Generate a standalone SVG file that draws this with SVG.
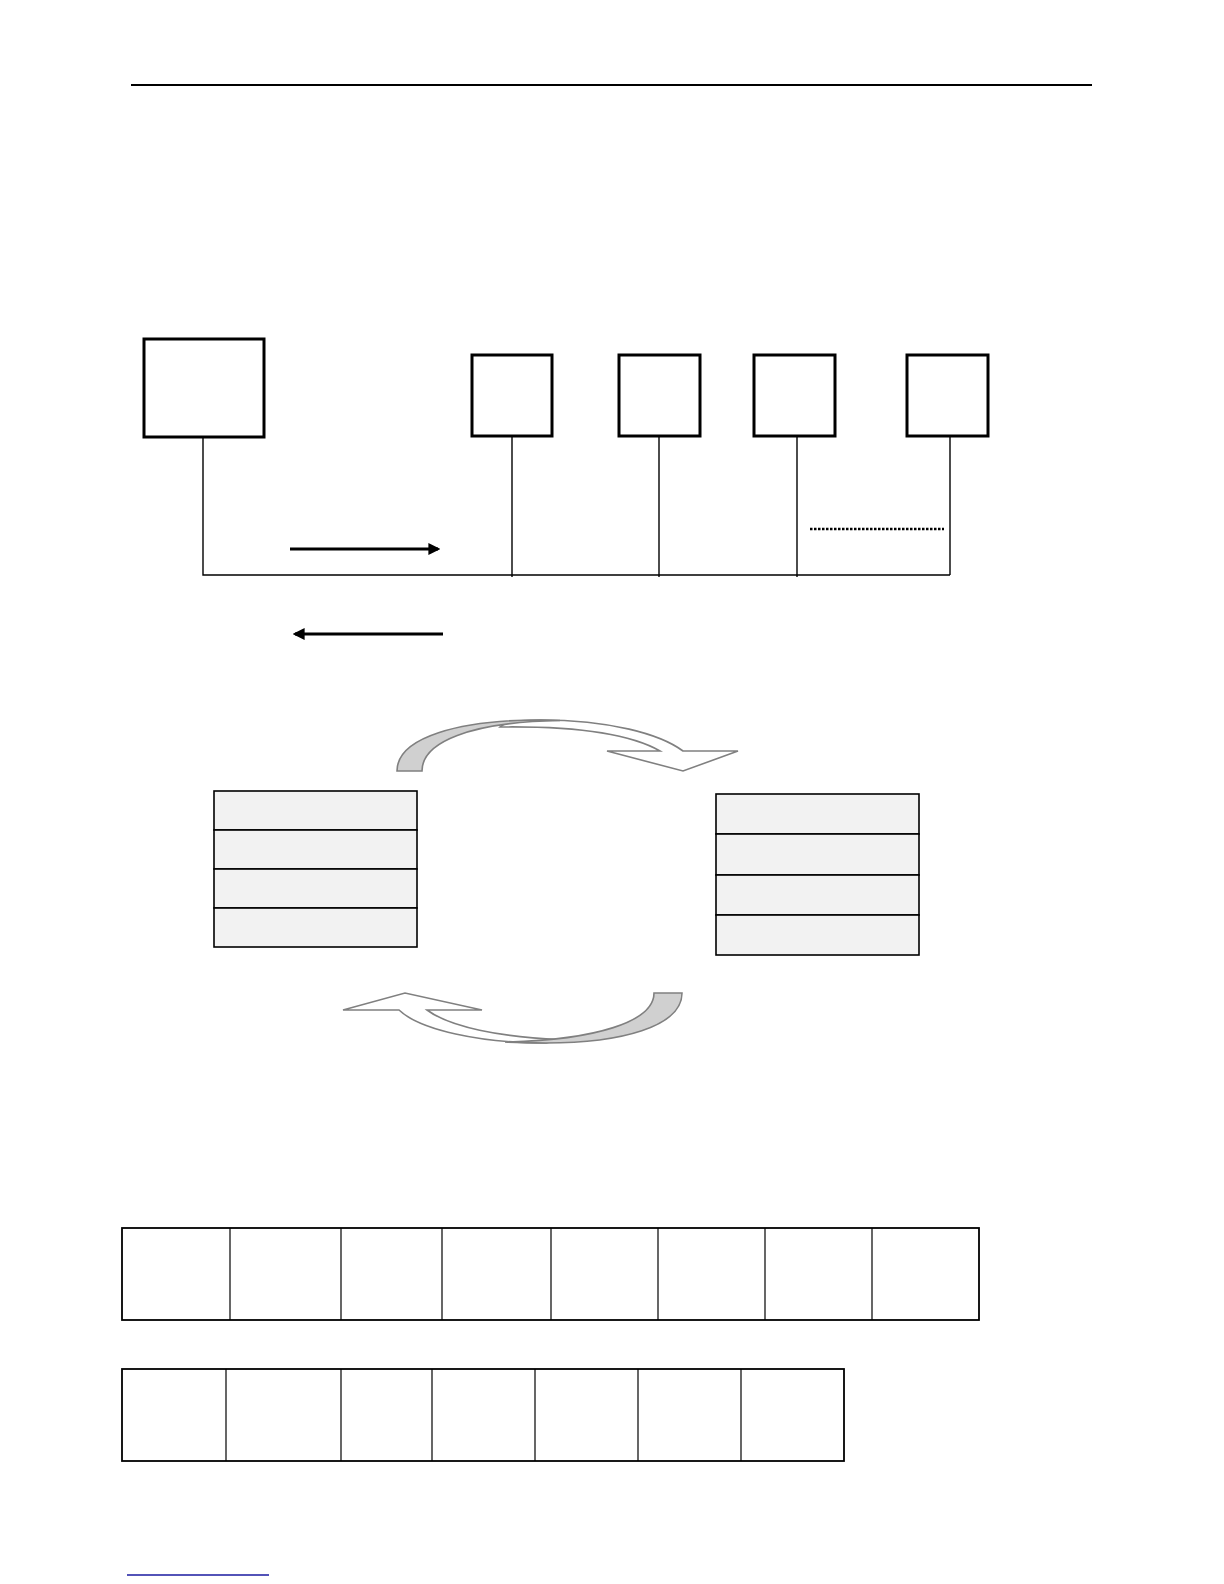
<svg xmlns="http://www.w3.org/2000/svg" width="1224" height="1584" viewBox="0 0 1224 1584">
<defs>
<style>
.box{fill:#fff;stroke:#000;stroke-width:3}
.wire{fill:none;stroke:#000;stroke-width:1.4}
.arr{fill:none;stroke:#000;stroke-width:3}
.cell{fill:#f2f2f2;stroke:#000;stroke-width:1.6}
.tab{fill:#fff;stroke:#000;stroke-width:1.8}
.col{stroke:#000;stroke-width:1.2}
.band{fill:#fff;stroke:#808080;stroke-width:1.6;stroke-linejoin:miter}
.back{fill:#d0d0d0;stroke:#808080;stroke-width:1.6}
</style>
<marker id="ah" viewBox="0 0 10 10" refX="8" refY="5" markerWidth="4" markerHeight="4" orient="auto-start-reverse" markerUnits="strokeWidth">
<path d="M0,0 L10,5 L0,10 z" fill="#000"/>
</marker>
</defs>
<rect width="1224" height="1584" fill="#fff"/>
<line x1="131" y1="85" x2="1092" y2="85" stroke="#000" stroke-width="2"/>

<g id="connectors">
<polyline class="wire" points="203,437 203,575 950,575"/>
<line class="wire" x1="512" y1="436" x2="512" y2="577"/>
<line class="wire" x1="659" y1="436" x2="659" y2="577"/>
<line class="wire" x1="797" y1="436" x2="797" y2="577"/>
<line class="wire" x1="950" y1="436" x2="950" y2="575"/>
<line x1="810" y1="529" x2="944" y2="529" stroke="#000" stroke-width="2.4" stroke-dasharray="2.5,1.5"/>
<line class="arr" x1="290" y1="549" x2="438" y2="549" marker-end="url(#ah)"/>
<line class="arr" x1="443" y1="634" x2="295" y2="634" marker-end="url(#ah)"/>
</g>

<g id="node-main"><rect class="box" x="144" y="339" width="120" height="98"/></g>
<g id="node-1"><rect class="box" x="472" y="355" width="80" height="81"/></g>
<g id="node-2"><rect class="box" x="619" y="355" width="81" height="81"/></g>
<g id="node-3"><rect class="box" x="754" y="355" width="81" height="81"/></g>
<g id="node-4"><rect class="box" x="907" y="355" width="81" height="81"/></g>

<g id="curve-top">
<path class="band" d="M500,727 C580,726 630,734 660,751 L607,751 L683,771 L738,751 L683,751 C660,734 610,720 540,720 C520,720 505,722 500,727 Z"/>
<path class="back" d="M397,771 C397,737 460,720 540,720 C548,720 555,720.2 560,720.5 C470,722 422,742 422,771 Z"/>
</g>

<g id="curve-bottom">
<path class="band" d="M399,1010 C420,1030 480,1043 546,1043 L560,1039.5 C500,1037 450,1027 427,1010 L482,1010 L405,993 L343,1010 Z"/>
<path class="back" d="M682,993 C682,1027 620,1043 546,1043 C530,1043 515,1042.6 505,1042 C595,1040 654,1022 654,993 Z"/>
</g>

<g id="stack-left">
<rect class="cell" x="214" y="791" width="203" height="39"/>
<rect class="cell" x="214" y="830" width="203" height="39"/>
<rect class="cell" x="214" y="869" width="203" height="39"/>
<rect class="cell" x="214" y="908" width="203" height="39"/>
</g>

<g id="stack-right">
<rect class="cell" x="716" y="794" width="203" height="40"/>
<rect class="cell" x="716" y="834" width="203" height="41"/>
<rect class="cell" x="716" y="875" width="203" height="40"/>
<rect class="cell" x="716" y="915" width="203" height="40"/>
</g>

<g id="frame-1">
<rect class="tab" x="122" y="1228" width="857" height="92"/>
<line class="col" x1="230" y1="1228" x2="230" y2="1320"/>
<line class="col" x1="341" y1="1228" x2="341" y2="1320"/>
<line class="col" x1="442" y1="1228" x2="442" y2="1320"/>
<line class="col" x1="551" y1="1228" x2="551" y2="1320"/>
<line class="col" x1="658" y1="1228" x2="658" y2="1320"/>
<line class="col" x1="765" y1="1228" x2="765" y2="1320"/>
<line class="col" x1="872" y1="1228" x2="872" y2="1320"/>
</g>

<g id="frame-2">
<rect class="tab" x="122" y="1369" width="722" height="92"/>
<line class="col" x1="226" y1="1369" x2="226" y2="1461"/>
<line class="col" x1="341" y1="1369" x2="341" y2="1461"/>
<line class="col" x1="432" y1="1369" x2="432" y2="1461"/>
<line class="col" x1="535" y1="1369" x2="535" y2="1461"/>
<line class="col" x1="638" y1="1369" x2="638" y2="1461"/>
<line class="col" x1="741" y1="1369" x2="741" y2="1461"/>
</g>

<line x1="127" y1="1575" x2="269" y2="1575" stroke="#1a1aa0" stroke-width="1.4"/>
</svg>
